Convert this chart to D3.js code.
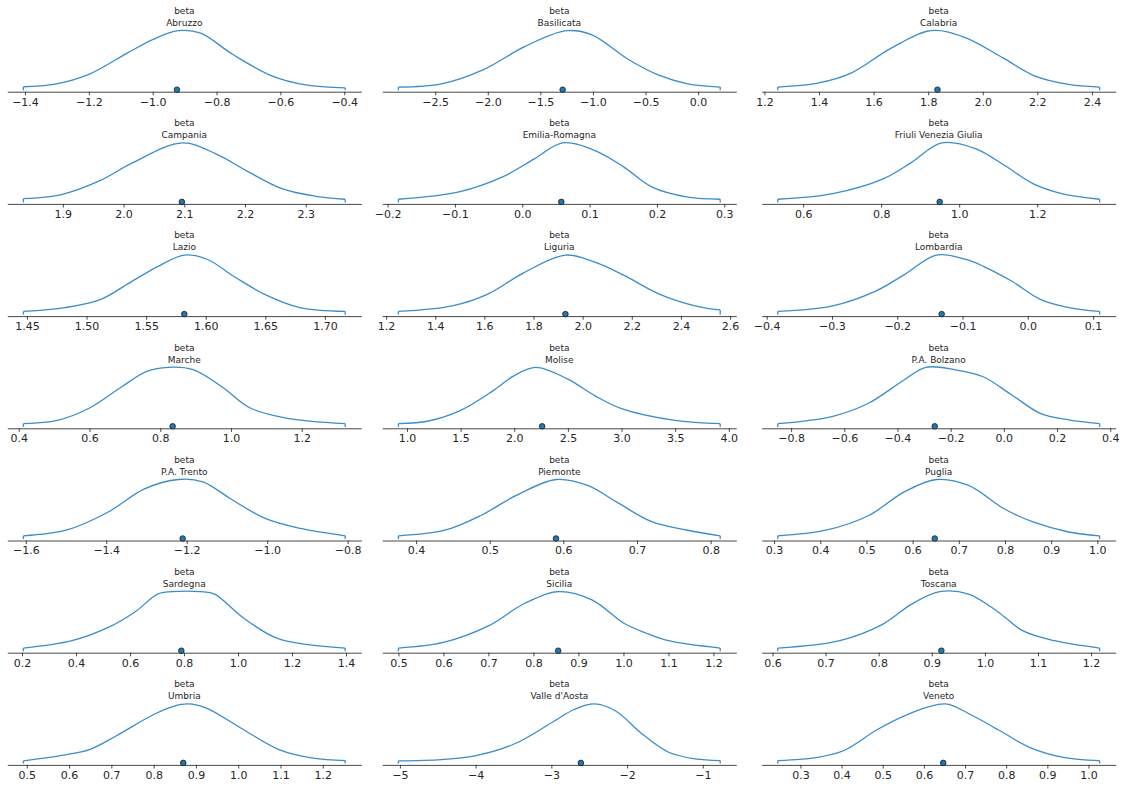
<!DOCTYPE html>
<html>
<head>
<meta charset="utf-8">
<script src="https://cdn.jsdelivr.net/npm/d3@7"></script>
<style>
  html, body { margin: 0; padding: 0; background: #fff; }
  svg { display: block; font-family: "DejaVu Sans", sans-serif; }
</style>
</head>
<body>
<svg id="chart" width="1125" height="786"></svg>
<script>
// Posterior densities of the regional "beta" coefficients (94% HDI span of each KDE).
const varName = "beta";

const regions = [
  "Abruzzo", "Basilicata", "Calabria",
  "Campania", "Emilia-Romagna", "Friuli Venezia Giulia",
  "Lazio", "Liguria", "Lombardia",
  "Marche", "Molise", "P.A. Bolzano",
  "P.A. Trento", "Piemonte", "Puglia",
  "Sardegna", "Sicilia", "Toscana",
  "Umbria", "Valle d'Aosta", "Veneto"
];

// Posterior means (marker on the baseline)
const pointEstimates = [
  -0.924, -1.288, 1.834,
  2.096, 0.058, 0.95,
  1.582, 1.93, -0.132,
  0.835, 2.26, -0.26,
  -1.21, 0.59, 0.648,
  0.79, 0.855, 0.918,
  0.87, -2.61, 0.647
];

// KDE evaluation points (parameter value) per region
const densityX = [
  [-1.405, -1.31, -1.2, -1.08, -1.0, -0.92, -0.85, -0.75, -0.625, -0.52, -0.397],
  [-2.85, -2.44, -2.03, -1.65, -1.25, -1.01, -0.67, -0.38, -0.1, 0.21],
  [1.249, 1.395, 1.517, 1.663, 1.81, 1.931, 2.077, 2.187, 2.309, 2.428],
  [1.835, 1.896, 1.961, 2.016, 2.097, 2.153, 2.202, 2.262, 2.317, 2.365],
  [-0.184, -0.094, -0.030, 0.018, 0.060, 0.108, 0.151, 0.193, 0.246, 0.294],
  [0.535, 0.676, 0.805, 0.878, 0.955, 1.043, 1.116, 1.189, 1.263, 1.36],
  [1.447, 1.482, 1.512, 1.536, 1.56, 1.582, 1.601, 1.625, 1.649, 1.679, 1.717],
  [1.25, 1.469, 1.614, 1.76, 1.93, 2.05, 2.167, 2.312, 2.458, 2.56],
  [-0.383, -0.299, -0.233, -0.189, -0.14, -0.096, -0.068, -0.025, 0.019, 0.063, 0.11],
  [0.413, 0.509, 0.6, 0.691, 0.762, 0.823, 0.893, 0.974, 1.055, 1.156, 1.323],
  [0.92, 1.2, 1.5, 1.8, 2.0, 2.2, 2.5, 2.75, 3.0, 3.5, 3.92],
  [-0.85, -0.643, -0.509, -0.374, -0.293, -0.186, -0.078, 0.03, 0.137, 0.244, 0.36],
  [-1.606, -1.5, -1.395, -1.305, -1.22, -1.16, -1.09, -1.005, -0.917, -0.806],
  [0.376, 0.439, 0.488, 0.536, 0.59, 0.633, 0.672, 0.721, 0.769, 0.813],
  [0.308, 0.412, 0.505, 0.582, 0.652, 0.721, 0.799, 0.861, 0.938, 1.005],
  [0.205, 0.385, 0.517, 0.622, 0.702, 0.755, 0.861, 0.913, 1.019, 1.151, 1.397],
  [0.5, 0.6, 0.7, 0.78, 0.855, 0.93, 1.0, 1.05, 1.1, 1.215],
  [0.61, 0.727, 0.808, 0.862, 0.915, 0.969, 1.023, 1.071, 1.131, 1.216],
  [0.492, 0.594, 0.65, 0.712, 0.8, 0.847, 0.882, 0.925, 1.004, 1.098, 1.177, 1.253],
  [-5.02, -4.45, -4.01, -3.49, -2.96, -2.70, -2.43, -2.15, -1.80, -1.45, -1.10, -0.77],
  [0.245, 0.342, 0.406, 0.488, 0.56, 0.652, 0.713, 0.786, 0.858, 0.939, 1.027]
];

// KDE heights at those points, relative to each region's mode
const densityY = [
  [0.05, 0.09, 0.26, 0.62, 0.85, 1.0, 0.96, 0.6, 0.23, 0.08, 0.03],
  [0.045, 0.10, 0.35, 0.73, 1.0, 0.93, 0.52, 0.25, 0.10, 0.045],
  [0.045, 0.11, 0.28, 0.70, 1.0, 0.89, 0.53, 0.24, 0.095, 0.045],
  [0.056, 0.12, 0.36, 0.67, 1.0, 0.81, 0.53, 0.22, 0.095, 0.045],
  [0.045, 0.17, 0.42, 0.73, 1.0, 0.87, 0.59, 0.25, 0.08, 0.045],
  [0.045, 0.14, 0.39, 0.67, 1.0, 0.9, 0.62, 0.31, 0.14, 0.045],
  [0.045, 0.11, 0.25, 0.53, 0.81, 1.0, 0.93, 0.62, 0.34, 0.11, 0.045],
  [0.045, 0.14, 0.34, 0.70, 1.0, 0.88, 0.66, 0.34, 0.14, 0.07],
  [0.045, 0.14, 0.39, 0.67, 1.0, 0.93, 0.81, 0.56, 0.25, 0.11, 0.045],
  [0.045, 0.1, 0.31, 0.67, 0.93, 1.0, 0.96, 0.67, 0.31, 0.14, 0.045],
  [0.045, 0.09, 0.27, 0.6, 0.86, 1.0, 0.8, 0.52, 0.3, 0.1, 0.045],
  [0.045, 0.17, 0.39, 0.79, 1.0, 0.96, 0.84, 0.53, 0.22, 0.11, 0.045],
  [0.045, 0.14, 0.45, 0.84, 1.0, 0.96, 0.67, 0.34, 0.17, 0.045],
  [0.045, 0.14, 0.39, 0.73, 1.0, 0.9, 0.62, 0.28, 0.14, 0.045],
  [0.045, 0.14, 0.39, 0.79, 1.0, 0.9, 0.5, 0.28, 0.11, 0.045],
  [0.045, 0.17, 0.39, 0.67, 0.96, 1.0, 1.0, 0.96, 0.56, 0.2, 0.045],
  [0.045, 0.14, 0.42, 0.8, 1.0, 0.86, 0.47, 0.3, 0.17, 0.045],
  [0.045, 0.17, 0.45, 0.79, 1.0, 0.96, 0.67, 0.34, 0.17, 0.045],
  [0.035, 0.14, 0.23, 0.46, 0.82, 0.96, 1.0, 0.93, 0.60, 0.22, 0.08, 0.04],
  [0.035, 0.056, 0.12, 0.32, 0.71, 0.905, 1.0, 0.88, 0.49, 0.18, 0.067, 0.04],
  [0.04, 0.095, 0.21, 0.57, 0.82, 1.0, 0.82, 0.54, 0.26, 0.095, 0.04]
];

// x tick positions per region
const tickValues = [
  [-1.4, -1.2, -1.0, -0.8, -0.6, -0.4],
  [-2.5, -2.0, -1.5, -1.0, -0.5, 0.0],
  [1.2, 1.4, 1.6, 1.8, 2.0, 2.2, 2.4],
  [1.9, 2.0, 2.1, 2.2, 2.3],
  [-0.2, -0.1, 0.0, 0.1, 0.2, 0.3],
  [0.6, 0.8, 1.0, 1.2],
  [1.45, 1.50, 1.55, 1.60, 1.65, 1.70],
  [1.2, 1.4, 1.6, 1.8, 2.0, 2.2, 2.4, 2.6],
  [-0.4, -0.3, -0.2, -0.1, 0.0, 0.1],
  [0.4, 0.6, 0.8, 1.0, 1.2],
  [1.0, 1.5, 2.0, 2.5, 3.0, 3.5, 4.0],
  [-0.8, -0.6, -0.4, -0.2, 0.0, 0.2, 0.4],
  [-1.6, -1.4, -1.2, -1.0, -0.8],
  [0.4, 0.5, 0.6, 0.7, 0.8],
  [0.3, 0.4, 0.5, 0.6, 0.7, 0.8, 0.9, 1.0],
  [0.2, 0.4, 0.6, 0.8, 1.0, 1.2, 1.4],
  [0.5, 0.6, 0.7, 0.8, 0.9, 1.0, 1.1, 1.2],
  [0.6, 0.7, 0.8, 0.9, 1.0, 1.1, 1.2],
  [0.5, 0.6, 0.7, 0.8, 0.9, 1.0, 1.1, 1.2],
  [-5, -4, -3, -2, -1],
  [0.3, 0.4, 0.5, 0.6, 0.7, 0.8, 0.9, 1.0]
];

// ---- layout ----
const nCols = 3;
const colLeft = [7.3, 382.3, 761.7];
const panelWidth = 354;
const firstSpineY = 91.7;
const rowStep = 112.2;
const zeroOffset = 2;      // y = 0 sits just above the spine
const modeHeight = 59;     // pixel height of each density's mode

const lineColor = "#3a8dca";
const markerFill = "#1f77b4";
const axisColor = "#333";
const textColor = "#262626";

const svg = d3.select("#chart");

regions.forEach((name, i) => {
  const col = i % nCols;
  const row = Math.floor(i / nCols);
  const left = colLeft[col];
  const spineY = firstSpineY + row * rowStep;

  const xs = densityX[i];
  const ys = densityY[i];
  const lo = d3.min(xs), hi = d3.max(xs);
  const pad = (hi - lo) * 0.05;

  const x = d3.scaleLinear().domain([lo - pad, hi + pad]).range([left, left + panelWidth]);
  const ymax = d3.max(ys);
  const y = d3.scaleLinear().domain([0, ymax]).range([spineY - zeroOffset, spineY - zeroOffset - modeHeight]);

  const g = svg.append("g").attr("class", "panel");

  // two-line title: variable name, then region
  [varName, name].forEach((t, k) => {
    g.append("text")
      .attr("x", left + panelWidth / 2)
      .attr("y", spineY - 77.7 + k * 12)
      .attr("text-anchor", "middle")
      .attr("font-size", "9px")
      .attr("fill", textColor)
      .text(t);
  });

  // bottom axis
  const ticks = tickValues[i];
  const step = Math.round(Math.abs(ticks[1] - ticks[0]) * 1e6) / 1e6;
  const fmt = d3.format("." + d3.precisionFixed(step) + "f");
  const axis = d3.axisBottom(x)
    .tickValues(ticks)
    .tickFormat(fmt)
    .tickSize(3.6)
    .tickPadding(2.5)
    .tickSizeOuter(0);
  const ax = g.append("g")
    .attr("transform", `translate(0,${spineY})`)
    .call(axis);
  ax.select(".domain").attr("stroke", axisColor).attr("stroke-width", 0.9);
  ax.selectAll(".tick line").attr("stroke", axisColor).attr("stroke-width", 0.9);
  ax.selectAll(".tick text")
    .attr("fill", textColor)
    .attr("font-size", "11px")
    .attr("font-family", "DejaVu Sans, sans-serif");

  // density outline
  const pts = xs.map((v, k) => [v, ys[k]]);
  const line = d3.line()
    .x(d => x(d[0]))
    .y(d => y(d[1]))
    .curve(d3.curveCatmullRom.alpha(0.5));
  g.append("path")
    .datum(pts)
    .attr("d", line)
    .attr("fill", "none")
    .attr("stroke", lineColor)
    .attr("stroke-width", 1.3);

  // end caps at the HDI bounds
  [[lo, ys[0]], [hi, ys[ys.length - 1]]].forEach(([v, d]) => {
    g.append("line")
      .attr("x1", x(v)).attr("x2", x(v))
      .attr("y1", y(-ymax / 100)).attr("y2", y(d))
      .attr("stroke", lineColor)
      .attr("stroke-width", 1.3);
  });

  // point estimate
  g.append("circle")
    .attr("cx", x(pointEstimates[i]))
    .attr("cy", y(0))
    .attr("r", 2.8)
    .attr("fill", markerFill)
    .attr("stroke", "#1a1a1a")
    .attr("stroke-width", 0.8);
});
</script>
</body>
</html>
